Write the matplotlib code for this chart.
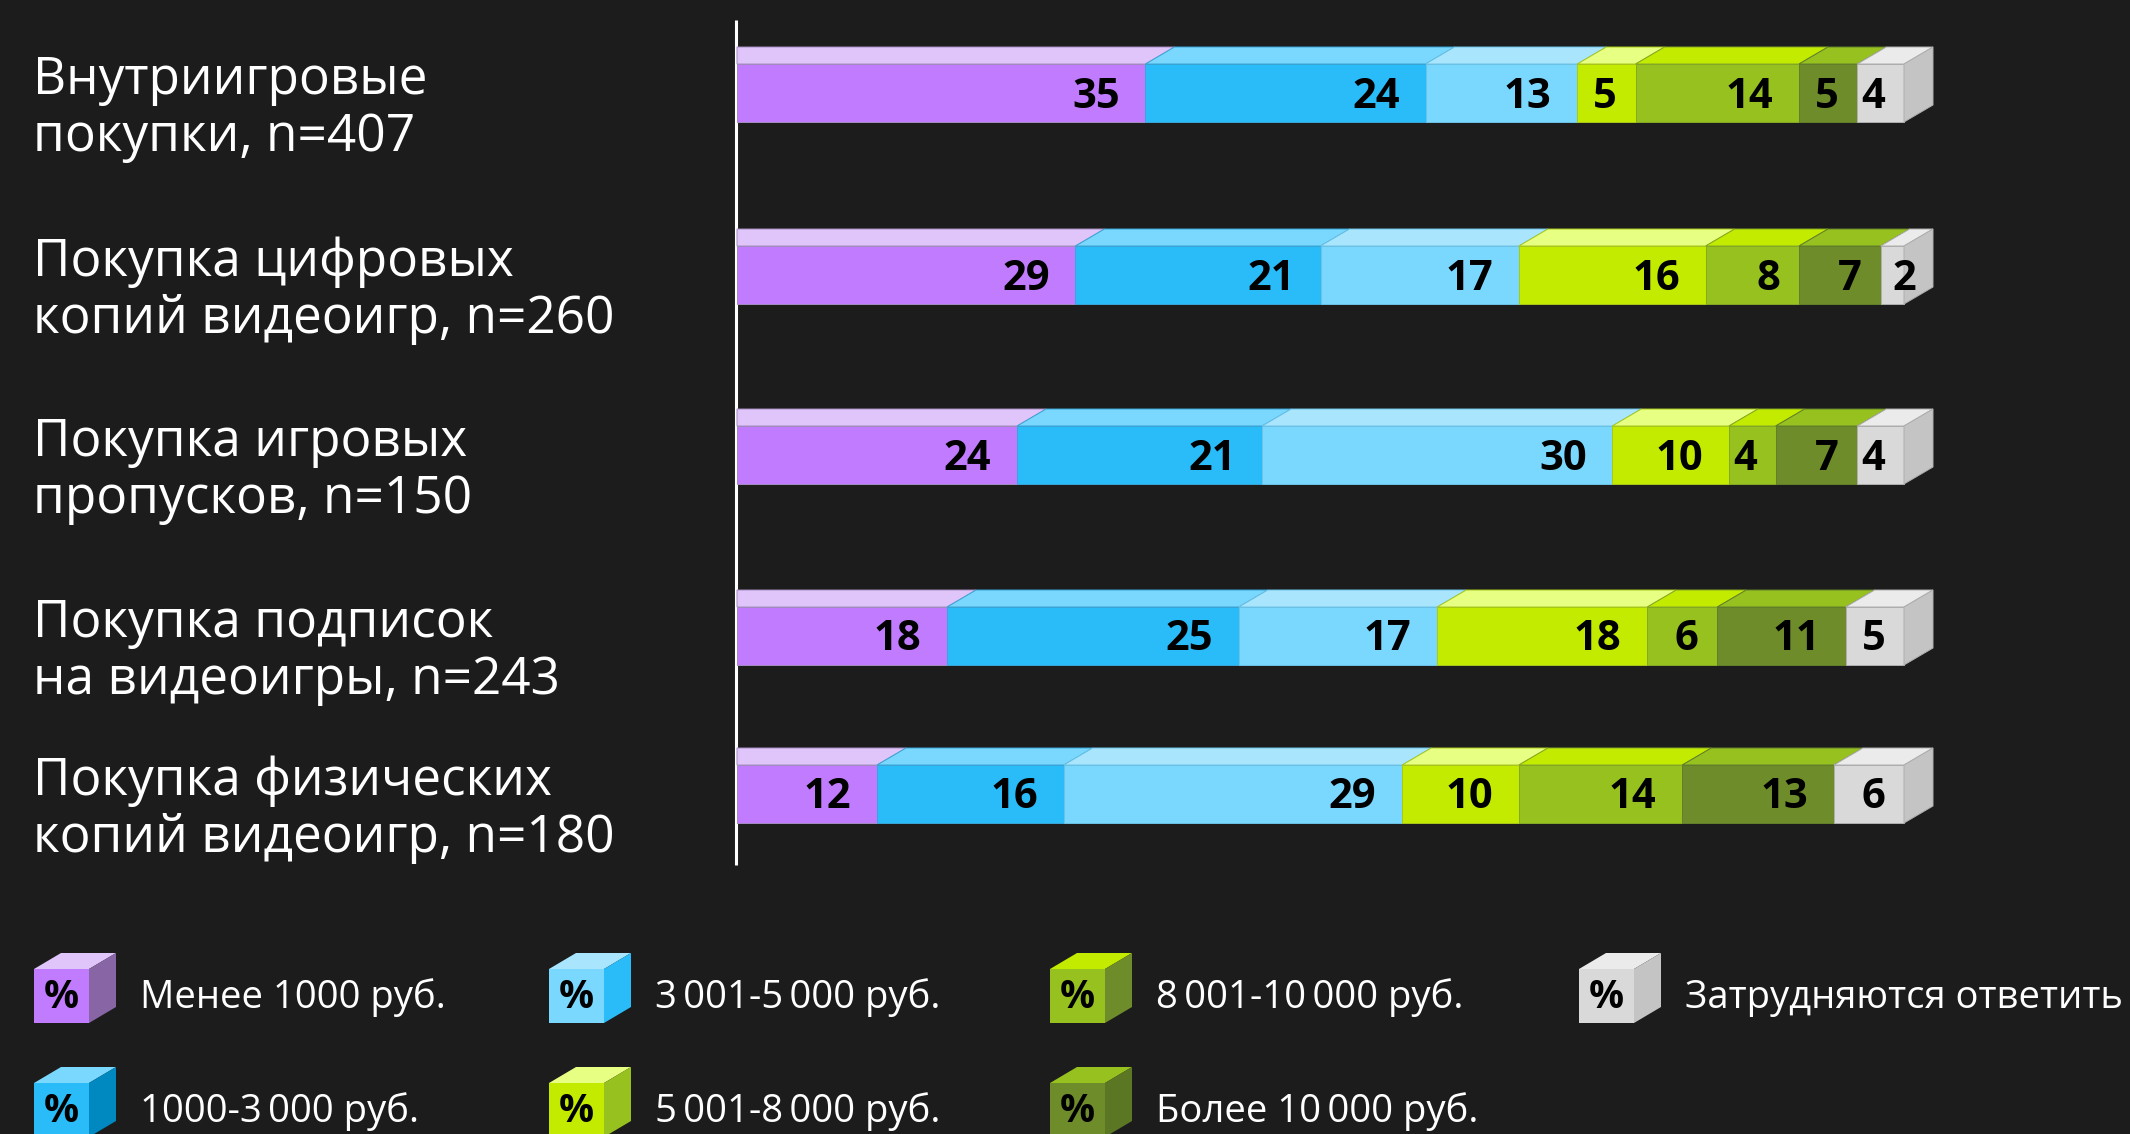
import numpy as np
import matplotlib.pyplot as plt
from matplotlib.patches import Polygon

# Survey: how much respondents spent on each kind of game purchase, % of group
categories = [
    "Внутриигровые\nпокупки, n=407",
    "Покупка цифровых\nкопий видеоигр, n=260",
    "Покупка игровых\nпропусков, n=150",
    "Покупка подписок\nна видеоигры, n=243",
    "Покупка физических\nкопий видеоигр, n=180",
]
series = [
    "Менее 1000 руб.",
    "1000-3\u2009000 руб.",
    "3\u2009001-5\u2009000 руб.",
    "5\u2009001-8\u2009000 руб.",
    "8\u2009001-10\u2009000 руб.",
    "Более 10\u2009000 руб.",
    "Затрудняются ответить",
]
under_1000 = [35, 29, 24, 18, 12]
r1000_3000 = [24, 21, 21, 25, 16]
r3001_5000 = [13, 17, 30, 17, 29]
r5001_8000 = [5, 16, 10, 18, 10]
r8001_10000 = [14, 8, 4, 6, 14]
over_10000 = [5, 7, 7, 11, 13]
no_answer = [4, 2, 4, 5, 6]
values = np.array([under_1000, r1000_3000, r3001_5000, r5001_8000,
                   r8001_10000, over_10000, no_answer]).T

# front / top / side shades of each block
FRONT = ["#C17BFF", "#29BCF9", "#7AD7FE", "#C2EB00", "#97C11F", "#6F8C2A", "#D9D9D9"]
TOP = ["#E0C5FB", "#7AD7FE", "#A9E6FE", "#E7FF82", "#C2EB00", "#97C11F", "#EBEBEB"]
SIDE = ["#8866A6", "#0089C1", "#29BCF9", "#97C11F", "#6F8C2A", "#5C7724", "#C4C4C4"]
EDGE = ["#A48CC0", "#3AA5D8", "#6CC3E6", "#A9C81A", "#86A826", "#62802A", "#AFAFAF"]
BG = "#1C1C1C"

plt.rcParams["font.family"] = ["Open Sans", "DejaVu Sans"]

W, H, DPI = 2130, 1134, 100
fig = plt.figure(figsize=(W / DPI, H / DPI), dpi=DPI, facecolor=BG)

# pixel-space layer for the row labels, rule and legend
deco = fig.add_axes([0, 0, 1, 1])
deco.set_xlim(0, W)
deco.set_ylim(H, 0)
deco.axis("off")

# bar layer: x in percent, y in pixels
X0, X1 = 737, 1904
ax = fig.add_axes([X0 / W, 0, (X1 - X0) / W, 1])
ax.set_xlim(0, 100)
ax.set_ylim(H, 0)
ax.axis("off")

pct_per_px = 100 / (X1 - X0)
DX = 29 * pct_per_px
DY = 17
BAR_H = 58
ROW_TOP = [64, 246, 426, 607, 765]

for i, row in enumerate(values):
    top = ROW_TOP[i]
    bot = top + BAR_H
    lefts = np.concatenate([[0], np.cumsum(row)[:-1]])
    for j, (l, v) in enumerate(zip(lefts, row)):
        r = l + v
        ax.add_patch(Polygon([(l, top), (r, top), (r, bot), (l, bot)],
                             closed=True, fc=FRONT[j], ec=EDGE[j], lw=0.7,
                             clip_on=False, zorder=2))
        tl = 0 if j == 0 else l + DX
        ax.add_patch(Polygon([(l, top), (r, top), (r + DX, top - DY), (tl, top - DY)],
                             closed=True, fc=TOP[j], ec=EDGE[j], lw=0.7,
                             clip_on=False, zorder=2))
        # value label, tucked against the segment's right end
        s = str(v)
        yc = top + BAR_H / 2 + 4
        if v * (X1 - X0) / 100 < 30:
            ax.text(r, yc, s, ha="center", va="center", fontsize=30,
                    fontweight="bold", color="black", zorder=4, clip_on=False)
        else:
            pad = 1.6 if len(s) == 1 else 2.2
            ax.text(r - pad, yc, s, ha="right", va="center", fontsize=30,
                    fontweight="bold", color="black", zorder=4, clip_on=False)
    # right-hand side of the last block
    end = row.sum()
    ax.add_patch(Polygon([(end, top), (end + DX, top - DY), (end + DX, bot - DY), (end, bot)],
                         closed=True, fc=SIDE[-1], ec=EDGE[-1], lw=0.7,
                         clip_on=False, zorder=2))

# row labels
for i, cat in enumerate(categories):
    deco.text(33, ROW_TOP[i] + BAR_H / 2 + 16, cat, ha="left", va="center",
              fontsize=37, color="white", linespacing=1.15)

# baseline rule
deco.plot([735.5, 735.5], [20, 865], color="white", lw=2.2, solid_capstyle="butt", zorder=5)

# legend: small cubes with a % mark, two rows per column
LEG_X = [34, 549, 1050, 1579]
LEG_Y = [969, 1083]
CW, CH, CDX, CDY = 55, 54, 27, 16
for k, name in enumerate(series):
    cx = LEG_X[k // 2]
    cy = LEG_Y[k % 2]
    deco.add_patch(Polygon([(cx, cy), (cx + CW, cy), (cx + CW, cy + CH), (cx, cy + CH)],
                           closed=True, fc=FRONT[k], ec="none", zorder=2))
    deco.add_patch(Polygon([(cx, cy), (cx + CW, cy), (cx + CW + CDX, cy - CDY), (cx + CDX, cy - CDY)],
                           closed=True, fc=TOP[k], ec="none", zorder=2))
    deco.add_patch(Polygon([(cx + CW, cy), (cx + CW + CDX, cy - CDY), (cx + CW + CDX, cy + CH - CDY), (cx + CW, cy + CH)],
                           closed=True, fc=SIDE[k], ec="none", zorder=2))
    deco.text(cx + CW / 2, cy + CH / 2 + 1, "%", ha="center", va="center",
              fontsize=28, fontweight="bold", color="black", zorder=3)
    deco.text(cx + 106, cy + CH / 2 + 2, name, ha="left", va="center",
              fontsize=27.5, color="white", zorder=3)

fig.savefig("out.png", dpi=DPI, facecolor=BG)
